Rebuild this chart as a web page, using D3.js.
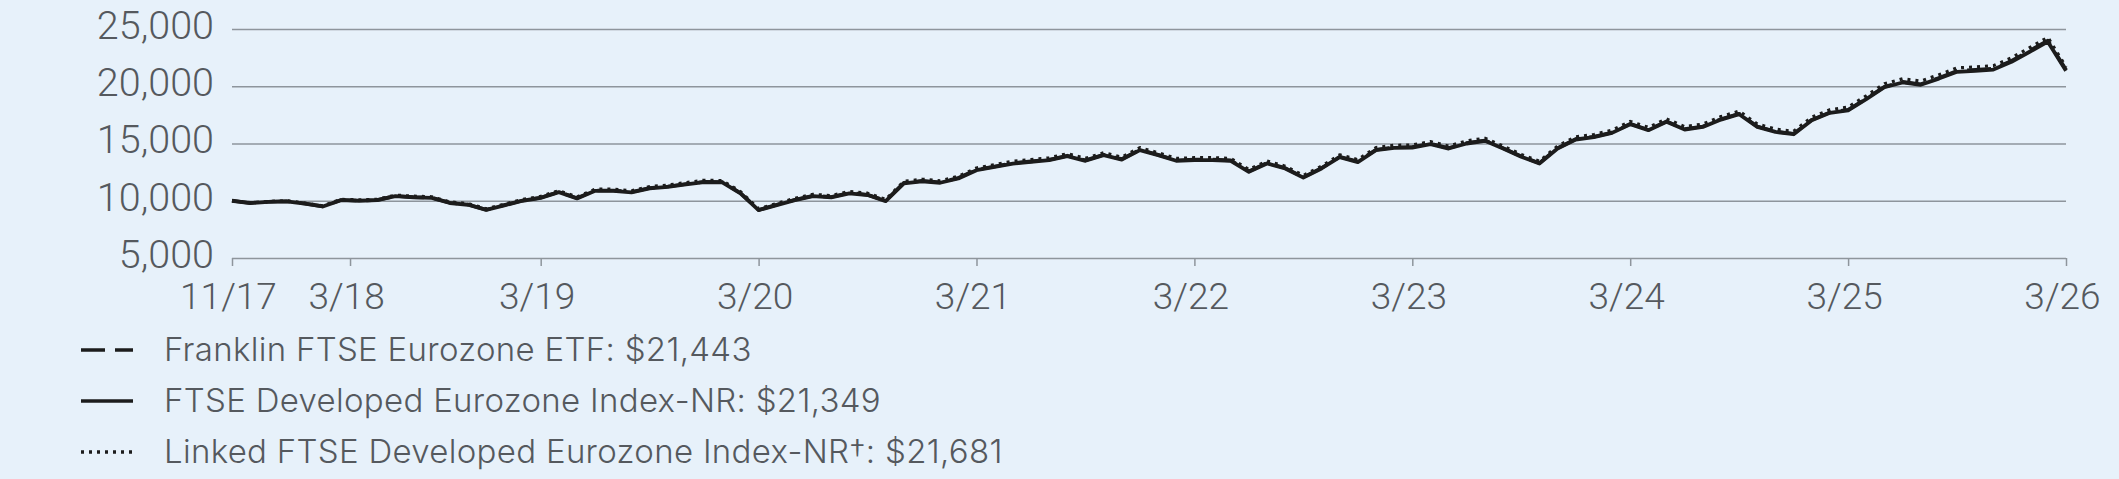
<!DOCTYPE html>
<html>
<head>
<meta charset="utf-8">
<script src="https://cdn.jsdelivr.net/npm/d3@7"></script>
<style>
  html, body { margin: 0; padding: 0; background: #E7F1FA; }
  svg { display: block; }
  text { font-family: Roboto, "Noto Sans", sans-serif; font-weight: 300; fill: #55595e; }
</style>
</head>
<body>
<svg id="chart" width="2119" height="479"></svg>
<script>
// ---- Data (month-end values, hypothetical $10,000 investment) ----
const seriesNames = [
  "Franklin FTSE Eurozone ETF: $21,443",
  "FTSE Developed Eurozone Index-NR: $21,349",
  "Linked FTSE Developed Eurozone Index-NR\u2020: $21,681"
];

const etfValues = [
  10000, 9810, 9910, 9960, 9760, 9510, 10060, 10010, 10070, 10420,
  10320, 10270, 9820, 9670, 9220, 9620, 10020, 10270, 10780, 10230,
  10900, 10900, 10760, 11110, 11250, 11460, 11660, 11630, 10680, 9200,
  9650, 10090, 10440, 10330, 10680, 10530, 10000, 11560, 11740, 11610,
  11990, 12710, 13000, 13290, 13440, 13590, 13940, 13530, 14020, 13640,
  14460, 14020, 13530, 13590, 13590, 13530, 12570, 13300, 12860, 12060,
  12860, 13840, 13420, 14460, 14660, 14690, 14980, 14600, 15040, 15270,
  14600, 13880, 13290, 14600, 15390, 15590, 15970, 16720, 16200, 16930,
  16260, 16490, 17130, 17600, 16490, 16050, 15850, 17070, 17720, 17940,
  18920, 19960, 20380, 20180, 20730, 21330, 21430, 21540, 22220, 23110,
  23990, 21443
];

const indexValues = [
  10000, 9800, 9900, 9950, 9750, 9500, 10050, 10000, 10050, 10400,
  10300, 10250, 9800, 9650, 9200, 9600, 10000, 10250, 10750, 10200,
  10870, 10870, 10730, 11080, 11220, 11430, 11630, 11600, 10650, 9180,
  9620, 10060, 10410, 10300, 10650, 10500, 9970, 11520, 11700, 11570,
  11950, 12670, 12960, 13250, 13400, 13550, 13900, 13490, 13980, 13600,
  14420, 13980, 13490, 13550, 13550, 13490, 12530, 13260, 12820, 12020,
  12820, 13800, 13380, 14420, 14620, 14650, 14940, 14560, 15000, 15230,
  14560, 13840, 13250, 14560, 15350, 15550, 15930, 16680, 16160, 16890,
  16220, 16450, 17090, 17560, 16450, 16010, 15810, 17030, 17680, 17900,
  18880, 19910, 20330, 20130, 20670, 21260, 21350, 21460, 22130, 23010,
  23890, 21349
];

const linkedValues = [
  10000, 9830, 9940, 10000, 9800, 9560, 10120, 10080, 10130, 10490,
  10400, 10350, 9900, 9750, 9300, 9710, 10120, 10380, 10880, 10330,
  11010, 11010, 10870, 11230, 11370, 11590, 11790, 11760, 10800, 9310,
  9760, 10210, 10560, 10450, 10810, 10660, 10120, 11690, 11880, 11740,
  12130, 12860, 13160, 13450, 13600, 13750, 14110, 13700, 14190, 13810,
  14640, 14190, 13700, 13760, 13760, 13700, 12730, 13470, 13020, 12210,
  13020, 14010, 13590, 14640, 14840, 14870, 15160, 14780, 15230, 15460,
  14780, 14050, 13450, 14780, 15580, 15780, 16170, 16930, 16410, 17150,
  16470, 16700, 17350, 17830, 16700, 16260, 16060, 17300, 17950, 18180,
  19170, 20220, 20650, 20450, 21000, 21600, 21690, 21800, 22480, 23370,
  24270, 21681
];

// x ticks: position in months from start, and label
const xTickPositions = [0, 6.5, 17, 29, 41, 53, 65, 77, 89, 101];
const xTickLabels = ["11/17", "3/18", "3/19", "3/20", "3/21", "3/22", "3/23", "3/24", "3/25", "3/26"];
const yTickValues = [5000, 10000, 15000, 20000, 25000];

// ---- Layout ----
const svg = d3.select("#chart");
const W = 2119, H = 479;
svg.append("rect").attr("width", W).attr("height", H).attr("fill", "#E7F1FA");

const x = d3.scaleLinear().domain([0, indexValues.length - 1]).range([232, 2066]);
const y = d3.scaleLinear().domain([5000, 25000]).range([258, 29]);

const gridColor = "#8e959c";

// Grid lines + y labels
const yAxis = d3.axisLeft(y)
  .tickValues(yTickValues)
  .tickSize(-(2066 - 232))
  .tickPadding(18)
  .tickFormat(d3.format(","));
const gy = svg.append("g").attr("transform", "translate(232,0)").call(yAxis);
gy.select(".domain").remove();
gy.selectAll(".tick line").attr("stroke", gridColor).attr("stroke-width", 1.5);
gy.selectAll(".tick text")
  .attr("font-size", 39.5)
  .attr("dy", "0.24em")
  .style("font-family", "Roboto, sans-serif")
  .style("font-weight", 300)
  .attr("fill", "#55595e");

// X axis ticks
const xAxis = d3.axisBottom(x)
  .tickValues(xTickPositions)
  .tickSize(8)
  .tickPadding(17)
  .tickFormat((d, i) => xTickLabels[i]);
const gx = svg.append("g").attr("transform", "translate(0,258)").call(xAxis);
gx.select(".domain").remove();
gx.selectAll(".tick line").attr("stroke", gridColor).attr("stroke-width", 1.5);
gx.selectAll(".tick text")
  .attr("font-size", 37)
  .attr("dx", -4)
  .style("font-family", "Roboto, sans-serif")
  .style("font-weight", 300)
  .attr("fill", "#55595e");

// Lines
const line = d3.line().x((d, i) => x(i)).y(d => y(d));
const lineColor = "#1c1c1c";
const styles = [
  { values: etfValues, dash: "24 10", width: 3.6 },
  { values: indexValues, dash: null, width: 3.8 },
  { values: linkedValues, dash: "3 5", width: 3.2 }
];
styles.forEach(s => {
  svg.append("path")
    .datum(s.values)
    .attr("d", line)
    .attr("fill", "none")
    .attr("stroke", lineColor)
    .attr("stroke-width", s.width)
    .attr("stroke-linejoin", "round")
    .attr("stroke-dasharray", s.dash);
});

// Legend
const legendRows = [350, 401, 452];
const legend = svg.append("g");
seriesNames.forEach((name, i) => {
  const g = legend.append("g").attr("transform", `translate(0,${legendRows[i]})`);
  g.append("line")
    .attr("x1", 81).attr("x2", 133).attr("y1", 0).attr("y2", 0)
    .attr("stroke", lineColor)
    .attr("stroke-width", 3.5)
    .attr("stroke-dasharray", styles[i].dash);
  g.append("text")
    .attr("x", 164).attr("y", 11)
    .attr("font-size", 33)
    .attr("letter-spacing", 0.3)
    .style("font-family", "Inter, Roboto, sans-serif")
    .style("font-weight", 300)
    .text(name);
});
</script>
</body>
</html>
